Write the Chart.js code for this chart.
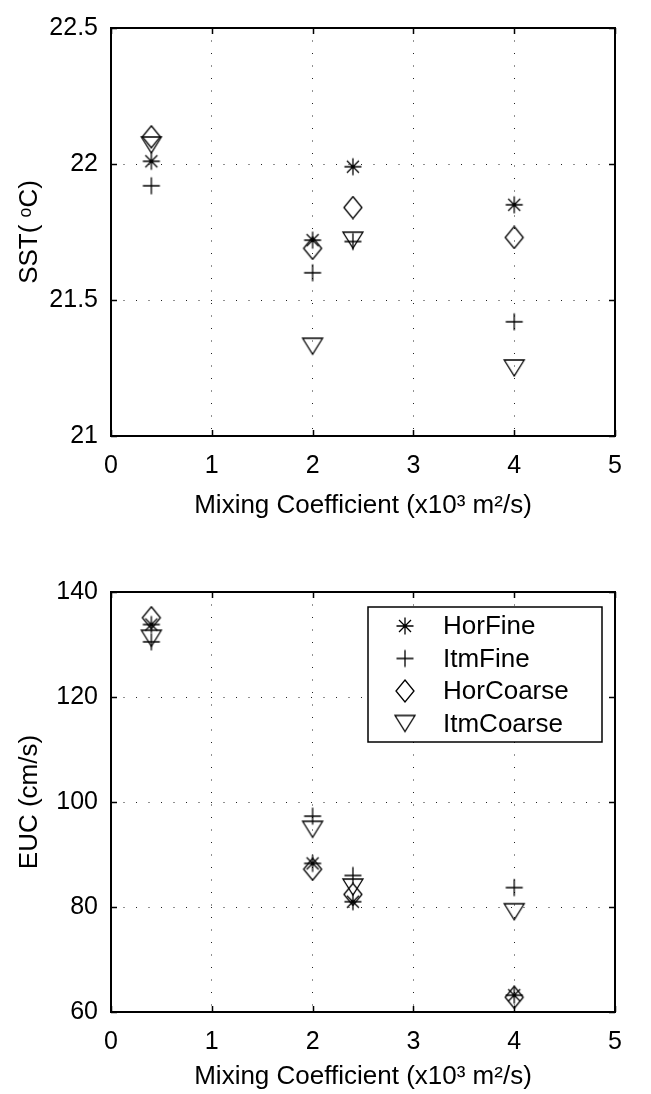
<!DOCTYPE html>
<html>
<head>
<meta charset="utf-8">
<title>SST and EUC vs mixing coefficient</title>
<script src="https://cdn.jsdelivr.net/npm/chart.js@4.4.1/dist/chart.umd.min.js"></script>
<style>
  html, body { margin: 0; padding: 0; background: #fff; }
  .panel { position: absolute; left: 0; width: 651px; }
  #top { top: 0; height: 548px; }
  #bottom { top: 548px; height: 546px; }
</style>
</head>
<body>
<div class="panel" id="top"><canvas id="sstChart" width="651" height="548"></canvas></div>
<div class="panel" id="bottom"><canvas id="eucChart" width="651" height="546"></canvas></div>
<script>
// Mixing coefficient (x10^3 m^2/s) for each run
const mixing = [0.4, 2, 2.4, 4];

// SST (deg C)
const sstHorFine   = [22.01, 21.72, 21.99, 21.85];
const sstItmFine   = [21.92, 21.60, 21.715, 21.42];
const sstHorCoarse = [22.10, 21.69, 21.84, 21.73];
const sstItmCoarse = [22.07, 21.33, 21.72, 21.25];

// EUC (cm/s)
const eucHorFine   = [133.8, 88.3, 81.0, 63.2];
const eucItmFine   = [130.5, 97.3, 86.0, 83.7];
const eucHorCoarse = [135.1, 87.2, 82.4, 62.8];
const eucItmCoarse = [131.2, 94.8, 83.8, 79.1];

const seriesNames = ['HorFine', 'ItmFine', 'HorCoarse', 'ItmCoarse'];
const xTicks = [0, 1, 2, 3, 4, 5];
const sstTicks = [21, 21.5, 22, 22.5];
const eucTicks = [60, 80, 100, 120, 140];

const FONT = '"Liberation Sans", Arial, sans-serif';
Chart.defaults.color = '#000';
Chart.defaults.font.family = FONT;

// MATLAB-like marker glyphs
function makeMarker(kind) {
    const c = document.createElement('canvas');
    c.width = 24; c.height = 24;
    const g = c.getContext('2d');
    const m = 12;
    g.strokeStyle = '#000';
    g.lineWidth = 1.3;
    g.beginPath();
    if (kind === 'star') {
        const h = 8.5, d = 6;
        g.moveTo(m - h, m); g.lineTo(m + h, m);
        g.moveTo(m, m - h); g.lineTo(m, m + h);
        g.moveTo(m - d, m - d); g.lineTo(m + d, m + d);
        g.moveTo(m - d, m + d); g.lineTo(m + d, m - d);
    } else if (kind === 'plus') {
        const h = 8.5;
        g.moveTo(m - h, m); g.lineTo(m + h, m);
        g.moveTo(m, m - h); g.lineTo(m, m + h);
    } else if (kind === 'diamond') {
        g.moveTo(m, m - 11); g.lineTo(m + 9, m);
        g.lineTo(m, m + 11); g.lineTo(m - 9, m);
        g.closePath();
    } else if (kind === 'tridown') {
        g.moveTo(m - 10, m - 8); g.lineTo(m + 10, m - 8);
        g.lineTo(m, m + 8);
        g.closePath();
    }
    g.stroke();
    return c;
}
const markers = [makeMarker('star'), makeMarker('plus'), makeMarker('diamond'), makeMarker('tridown')];

function toPoints(values) {
    return mixing.map((x, i) => ({ x: x, y: values[i] }));
}

function buildDatasets(seriesList) {
    return seriesList.map((vals, i) => ({
        label: seriesNames[i],
        data: toPoints(vals),
        pointStyle: markers[i],
        pointRadius: 9,
        pointHoverRadius: 9,
        showLine: false
    }));
}

// box around the axes with inward ticks, like MATLAB "box on"
const axesBox = {
    id: 'axesBox',
    afterDatasetsDraw(chart) {
        const { ctx, chartArea: a, scales } = chart;
        ctx.save();
        ctx.strokeStyle = '#000';
        ctx.lineWidth = 1.5;
        ctx.beginPath();
        scales.x.ticks.forEach(t => {
            const px = Math.round(scales.x.getPixelForValue(t.value)) + 0.5;
            ctx.moveTo(px, a.bottom); ctx.lineTo(px, a.bottom - 6);
            ctx.moveTo(px, a.top); ctx.lineTo(px, a.top + 6);
        });
        scales.y.ticks.forEach(t => {
            const py = Math.round(scales.y.getPixelForValue(t.value)) + 0.5;
            ctx.moveTo(a.left, py); ctx.lineTo(a.left + 6, py);
            ctx.moveTo(a.right, py); ctx.lineTo(a.right - 6, py);
        });
        ctx.stroke();
        ctx.lineWidth = 2;
        ctx.strokeRect(a.left, a.top, a.right - a.left, a.bottom - a.top);
        ctx.restore();
    }
};

// legend box drawn inside the plot area (top right)
const boxedLegend = {
    id: 'boxedLegend',
    afterDraw(chart, args, opts) {
        if (!opts.show) return;
        const { ctx, chartArea: a } = chart;
        const w = 234, h = 135;
        const left = a.right - 13 - w, top = a.top + 15;
        ctx.save();
        ctx.fillStyle = '#fff';
        ctx.fillRect(left, top, w, h);
        ctx.strokeStyle = '#000';
        ctx.lineWidth = 1.5;
        ctx.strokeRect(left, top, w, h);
        ctx.font = '26px ' + FONT;
        ctx.fillStyle = '#000';
        ctx.textBaseline = 'middle';
        chart.data.datasets.forEach((ds, i) => {
            const y = top + 19 + i * 32.5;
            const img = ds.pointStyle;
            ctx.drawImage(img, left + 37 - img.width / 2, y - img.height / 2);
            ctx.fillText(ds.label, left + 75, y + 1);
        });
        ctx.restore();
    }
};

function makeChart(id, datasets, yMin, yMax, yStep, yTitle, pad, xHeight, titlePadBottom, showLegend) {
    const ctx = document.getElementById(id).getContext('2d');
    return new Chart(ctx, {
        type: 'scatter',
        data: { datasets: datasets },
        options: {
            responsive: false,
            animation: false,
            layout: { padding: pad },
            plugins: {
                legend: { display: false },
                tooltip: { enabled: false },
                boxedLegend: { show: showLegend }
            },
            scales: {
                x: {
                    type: 'linear',
                    min: 0,
                    max: 5,
                    afterBuildTicks: s => { s.ticks = xTicks.map(v => ({ value: v })); },
                    afterFit: s => { s.height = xHeight; },
                    grid: { color: '#222', lineWidth: 1, drawTicks: false },
                    border: { display: false, dash: [1, 11.5] },
                    ticks: { padding: 15, font: { size: 25 }, maxRotation: 0, callback: v => String(v) },
                    title: {
                        display: true,
                        text: 'Mixing Coefficient (x10³ m²/s)',
                        font: { size: 26 },
                        padding: { top: 0, bottom: titlePadBottom }
                    }
                },
                y: {
                    type: 'linear',
                    min: yMin,
                    max: yMax,
                    afterBuildTicks: s => {
                        const vals = [];
                        for (let v = yMin; v <= yMax + 1e-9; v += yStep) vals.push(+v.toFixed(2));
                        s.ticks = vals.map(v => ({ value: v }));
                    },
                    afterFit: s => { s.width = 111; },
                    grid: { color: '#222', lineWidth: 1, drawTicks: false },
                    border: { display: false, dash: [1, 11.5] },
                    ticks: { padding: 13, font: { size: 25 }, callback: v => String(v) },
                    title: {
                        display: true,
                        text: yTitle,
                        font: { size: 26 },
                        padding: { top: 14, bottom: 0 }
                    }
                }
            }
        },
        plugins: [axesBox, boxedLegend]
    });
}

makeChart('sstChart',
    buildDatasets([sstHorFine, sstItmFine, sstHorCoarse, sstItmCoarse]),
    sstTicks[0], sstTicks[sstTicks.length - 1], 0.5, 'SST( ᵒC)',
    { top: 17, right: 36, left: 0, bottom: 0 }, 112, 27, false);

makeChart('eucChart',
    buildDatasets([eucHorFine, eucItmFine, eucHorCoarse, eucItmCoarse]),
    eucTicks[0], eucTicks[eucTicks.length - 1], 20, 'EUC (cm/s)',
    { top: 44, right: 36, left: 0, bottom: 0 }, 82, 2, true);
</script>
</body>
</html>
